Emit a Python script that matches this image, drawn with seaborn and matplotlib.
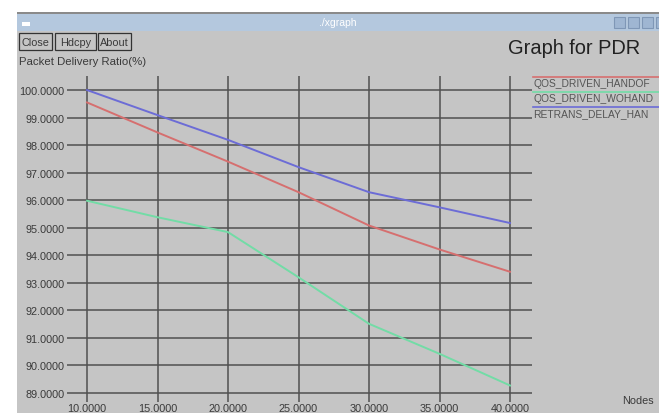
import matplotlib
matplotlib.use('Agg')
import matplotlib.pyplot as plt
from matplotlib.patches import Rectangle
from matplotlib.lines import Line2D
from matplotlib.ticker import FormatStrFormatter
import seaborn as sns
import pandas as pd

# --- DATA ---
nodes = [10, 15, 20, 25, 30, 35, 40]
qos_handoff = [99.55, 98.46, 97.40, 96.29, 95.08, 94.21, 93.40]
qos_wohandoff = [95.98, 95.38, 94.84, 93.20, 91.51, 90.42, 89.27]
retrans_delay = [100.00, 99.09, 98.19, 97.20, 96.29, 95.74, 95.17]

series_names = ['QOS_DRIVEN_HANDOFF', 'QOS_DRIVEN_WOHANDOFF', 'RETRANS_DELAY_HANDOFF']
# what the window actually shows of each name (the legend runs off the edge)
legend_labels = ['QOS_DRIVEN_HANDOF', 'QOS_DRIVEN_WOHAND', 'RETRANS_DELAY_HAN']
series_colors = ['#d66f6f', '#72dca6', '#6c6cd6']
x_ticks = [10, 15, 20, 25, 30, 35, 40]
y_ticks = [89, 90, 91, 92, 93, 94, 95, 96, 97, 98, 99, 100]

df = pd.DataFrame({
    'nodes': nodes * 3,
    'pdr': qos_handoff + qos_wohandoff + retrans_delay,
    'series': [s for s in series_names for _ in nodes],
})

plt.rcParams['font.family'] = ['Liberation Sans', 'DejaVu Sans']

W, H = 659, 414
BG = '#c5c5c5'
TXT = '#3a3a3a'


def fx(px):
    return px / W


def fy(py):
    return 1 - py / H


fig = plt.figure(figsize=(W / 100, H / 100), dpi=100)
fig.patch.set_facecolor(BG)

# window chrome: white margins, title bar
fig.patches.append(Rectangle((0, fy(14)), 1, 14 / H, transform=fig.transFigure,
                             facecolor='white', edgecolor='none', zorder=0))
fig.patches.append(Rectangle((0, 0), fx(17), 1, transform=fig.transFigure,
                             facecolor='white', edgecolor='none', zorder=0))
fig.patches.append(Rectangle((fx(17), fy(15)), 1, 2 / H, transform=fig.transFigure,
                             facecolor='#8a8a8a', edgecolor='none', zorder=1))
fig.patches.append(Rectangle((fx(17), fy(32)), 1, 17 / H, transform=fig.transFigure,
                             facecolor='#b4c8de', edgecolor='none', zorder=1))
fig.patches.append(Rectangle((fx(22), fy(27)), 8 / W, 4 / H, transform=fig.transFigure,
                             facecolor='white', edgecolor='none', zorder=2))
fig.text(fx(338), fy(23), './xgraph', color='white', fontsize=7.5, ha='center', va='center')
for bx in [614, 628, 642, 656]:
    fig.patches.append(Rectangle((fx(bx), fy(29)), 11 / W, 11 / H, transform=fig.transFigure,
                                 facecolor='#9fb6d2', edgecolor='#7f97b6', linewidth=0.8, zorder=2))

# xgraph buttons
for label, x0, x1 in [('Close', 19, 52), ('Hdcpy', 55, 96), ('About', 98, 131)]:
    fig.patches.append(Rectangle((fx(x0), fy(51)), (x1 - x0) / W, 17 / H, transform=fig.transFigure,
                                 facecolor=BG, edgecolor='#333333', linewidth=0.9, zorder=2))
    fig.text(fx((x0 + x1) / 2), fy(42.5), label, color=TXT, fontsize=7.8, ha='center', va='center')

fig.text(fx(19), fy(62), 'Packet Delivery Ratio(%)', color=TXT, fontsize=8.2, ha='left', va='center')
fig.text(fx(508), fy(49), 'Graph for PDR', color='#222222', fontsize=14.4, ha='left', va='center')
fig.text(fx(622), fy(401), 'Nodes', color=TXT, fontsize=7.8, ha='left', va='center')

# --- PLOT AREA ---
ax = fig.add_axes([fx(67), fy(403), (532 - 67) / W, (403 - 77) / H])
ax.set_facecolor(BG)
sns.lineplot(data=df, x='nodes', y='pdr', hue='series', palette=series_colors,
             hue_order=series_names, linewidth=1.4, ax=ax, legend=False, zorder=3)

ax.set_xlim(8.58, 41.56)
ax.set_ylim(88.67, 100.51)
ax.set_xticks(x_ticks)
ax.set_yticks(y_ticks)
ax.xaxis.set_major_formatter(FormatStrFormatter('%.4f'))
ax.yaxis.set_major_formatter(FormatStrFormatter('%.4f'))
ax.tick_params(length=0, labelsize=7.8, colors=TXT, pad=2)
ax.tick_params(axis='x', pad=1)
ax.grid(True, color='#505050', linewidth=1.1, zorder=1)
ax.set_axisbelow(True)
for sp in ax.spines.values():
    sp.set_visible(False)
ax.set_xlabel('')
ax.set_ylabel('')

# xgraph-style legend: coloured line above each name
for i, (name, col) in enumerate(zip(legend_labels, series_colors)):
    ytop = 78 + i * 15
    fig.add_artist(Line2D([fx(533), 1], [fy(ytop), fy(ytop)], color=col, linewidth=1.2,
                          transform=fig.transFigure))
    fig.text(fx(533), fy(ytop + 6), name, color='#555555', fontsize=7.4, ha='left', va='center')

fig.savefig('out.png', dpi=100, facecolor=fig.get_facecolor())
